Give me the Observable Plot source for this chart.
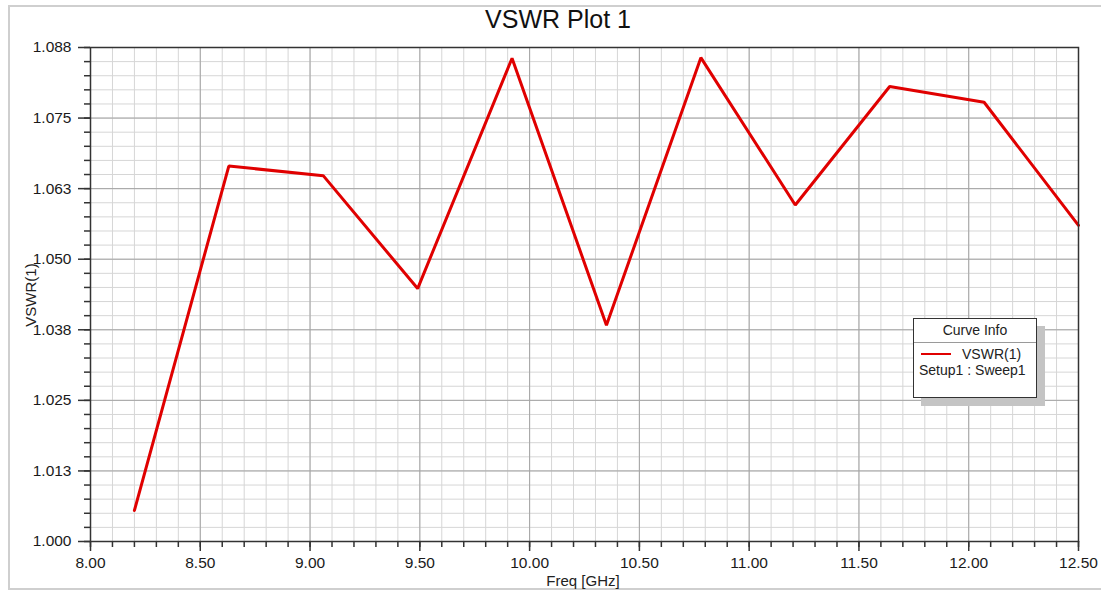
<!DOCTYPE html>
<html>
<head>
<meta charset="utf-8">
<script src="https://cdn.jsdelivr.net/npm/d3@7"></script>
<script src="https://cdn.jsdelivr.net/npm/@observablehq/plot@0.6"></script>
<style>
  html, body { margin: 0; padding: 0; background: #fff; }
  #wrap { position: relative; width: 1101px; height: 596px; overflow: hidden; font-family: "Liberation Sans", Arial, sans-serif; color: #222; }
  #frame { position: absolute; left: 8px; top: 5px; width: 1110px; height: 585px; border: 2px solid #cfcfcf; box-sizing: border-box; }
  #chart { position: absolute; left: 0; top: 0; }
  #title { position: absolute; left: 0; width: 1116px; top: 5px; text-align: center; font-size: 25px; color: #111; }
  #ylab { position: absolute; left: 30px; top: 295px; transform: translate(-50%, -50%) rotate(-90deg); font-size: 15px; white-space: nowrap; }
  #xlab { position: absolute; left: 583px; top: 580px; transform: translate(-50%, -50%); font-size: 15px; white-space: nowrap; }
  #legend { position: absolute; left: 913px; top: 318px; width: 124px; height: 80px; box-sizing: border-box; border: 1px solid #333; background: #fff; box-shadow: 8px 8px 0 #c4c4c4; font-size: 14px; color: #222; }
  #legend .hd { position: absolute; left: 0; right: 0; top: 0; height: 23px; line-height: 23px; text-align: center; border-bottom: 1px solid #9a9a9a; }
  #legend .sw { position: absolute; left: 7px; top: 34px; width: 30px; height: 2px; background: #e00000; }
  #legend .nm { position: absolute; left: 48px; top: 27px; line-height: 16px; }
  #legend .st { position: absolute; left: 5px; top: 43px; line-height: 16px; white-space: nowrap; }
</style>
</head>
<body>
<div id="wrap">
  <div id="frame"></div>
  <div id="chart"></div>
  <div id="title">VSWR Plot 1</div>
  <div id="ylab">VSWR(1)</div>
  <div id="xlab">Freq [GHz]</div>
  <div id="legend">
    <div class="hd">Curve Info</div>
    <div class="sw"></div><div class="nm">VSWR(1)</div><div class="st">Setup1 : Sweep1</div>
  </div>
</div>
<script>
// Data
const freqGHz = [8.20, 8.63, 9.06, 9.49, 9.92, 10.35, 10.78, 11.21, 11.64, 12.07, 12.50];
const vswr    = [1.0055, 1.0665, 1.0648, 1.0448, 1.0856, 1.0383, 1.0857, 1.0596, 1.0806, 1.0778, 1.0560];

// Axis ticks
const xTicks = [8.0, 8.5, 9.0, 9.5, 10.0, 10.5, 11.0, 11.5, 12.0, 12.5];
const xTickLabels = ["8.00", "8.50", "9.00", "9.50", "10.00", "10.50", "11.00", "11.50", "12.00", "12.50"];
const yTicks = [1.0, 1.0125, 1.025, 1.0375, 1.05, 1.0625, 1.075, 1.0875];
const yTickLabels = ["1.000", "1.013", "1.025", "1.038", "1.050", "1.063", "1.075", "1.088"];

// minor grid subdivisions (5 per major interval)
const xMinor = d3.range(0, 46).map(i => 8 + i * 0.1);
const yMinor = d3.range(0, 36).map(i => 1 + i * 0.0025);

const data = freqGHz.map((f, i) => ({freq: f, vswr: vswr[i]}));

const plot = Plot.plot({
  width: 1101,
  height: 596,
  marginLeft: 90,
  marginRight: 23,
  marginTop: 47,
  marginBottom: 55,
  style: {fontFamily: "'Liberation Sans', Arial, sans-serif", fontSize: "15.5px", color: "#1a1a1a", background: "transparent", overflow: "visible"},
  x: {domain: [8, 12.5]},
  y: {domain: [1, 1.0875]},
  marks: [
    Plot.gridX(xMinor, {stroke: "#d6d6d6", strokeOpacity: 1, strokeWidth: 1}),
    Plot.gridY(yMinor, {stroke: "#d6d6d6", strokeOpacity: 1, strokeWidth: 1}),
    Plot.gridX(xTicks, {stroke: "#a4a4a4", strokeOpacity: 1, strokeWidth: 1}),
    Plot.gridY(yTicks, {stroke: "#a4a4a4", strokeOpacity: 1, strokeWidth: 1}),
    Plot.axisX(xMinor, {tickSize: 6, tickFormat: () => "", stroke: "#333", strokeWidth: 1.5, label: null}),
    Plot.axisX(xTicks, {tickSize: 10, tickPadding: 5, stroke: "#333", strokeWidth: 1.5, tickFormat: d => xTickLabels[xTicks.indexOf(d)], label: null}),
    Plot.axisY(yMinor, {tickSize: 6, tickFormat: () => "", stroke: "#333", strokeWidth: 1.5, label: null}),
    Plot.axisY(yTicks, {tickSize: 12, tickPadding: 7, stroke: "#333", strokeWidth: 1.5, tickFormat: d => yTickLabels[yTicks.indexOf(d)], label: null}),
    Plot.line(data, {x: "freq", y: "vswr", stroke: "#e00000", strokeWidth: 3, strokeLinejoin: "miter"}),
    Plot.frame({stroke: "#333", strokeWidth: 1.5})
  ]
});
document.getElementById("chart").appendChild(plot);
</script>
</body>
</html>
